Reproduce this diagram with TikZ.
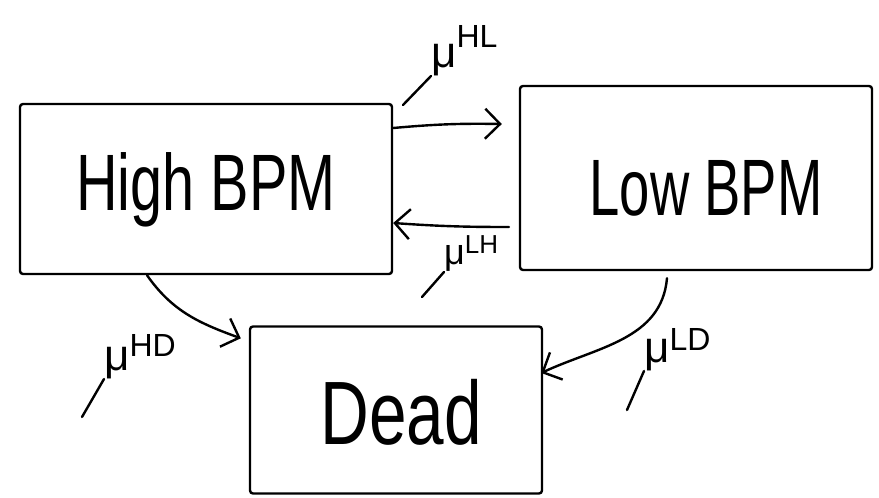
\documentclass[tikz,border=0pt]{standalone}
\usepackage{graphicx}
\usepackage{fontspec}
\setmainfont{Liberation Sans}
\usetikzlibrary{arrows.meta,calc}
% rate label: a mu with its raised superscript
\newcommand\ratelabel[3]{μ\raisebox{#2}{\fontsize{#3}{#3}\selectfont #1}}
\tikzset{
  ink/.style={line width=2.4pt, line cap=round, line join=round, black},
  statebox/.style={ink, draw, rectangle, rounded corners=3pt, inner sep=0pt},
  statetext/.style={font=\fontsize{80}{90}\selectfont},
  trans/.style={ink, -{Straight Barb[length=15pt,width=30pt,line width=2.4pt]}},
  rate/.style={anchor=south west, inner sep=0pt, font=\fontsize{44}{50}\selectfont},
}
\begin{document}
\begin{tikzpicture}[x=1pt,y=-1pt]
  \useasboundingbox (0,0) rectangle (879,498);

  % the three states
  \node[statebox, minimum width=372pt, minimum height=170pt] (hi) at (206,189) {};
  \node[statebox, minimum width=352pt, minimum height=184pt] (lo) at (696,178) {};
  \node[statebox, minimum width=292pt, minimum height=167pt] (de) at (396,410) {};

  \node[statetext] (hiT) at (206,190) {\scalebox{0.72}[1]{High BPM}};
  \node[statetext] (loT) at (706,188) {\scalebox{0.68}[1]{Low BPM}};
  \node[statetext, font=\fontsize{90}{100}\selectfont] (deT) at (401,412) {\scalebox{0.75}[1]{Dead}};

  % transitions between states
  \draw[trans] ([yshift=61pt]hi.east) to[bend left=3] ([xshift=-17pt,yshift=54pt]lo.west);
  \draw[trans] ([xshift=-10pt,yshift=-49pt]lo.west) to[bend left=2] ([yshift=-34pt]hi.east);
  \draw[trans] ([xshift=-59pt]hi.south) to[out=-55,in=160] ([xshift=-8pt,yshift=-13pt]de.north west);
  \draw[trans] ([xshift=-29pt,yshift=-7pt]lo.south) to[out=-95,in=25] ([xshift=-2pt,yshift=37pt]de.east);

  % transition rates, each with its tail stroke
  \node[rate] (rHL) at (431,76) {\ratelabel{HL}{20pt}{32}};
  \node[rate, font=\fontsize{36}{40}\selectfont] (rLH) at (444,272) {\ratelabel{LH}{11pt}{26}};
  \node[rate] (rHD) at (104,379) {\ratelabel{HD}{14pt}{32}};
  \node[rate] (rLD) at (644,371) {\ratelabel{LD}{12pt}{32}};

  \coordinate (tHL) at (403,105);
  \coordinate (tLH) at (422,297);
  \coordinate (tHD) at (82,417);
  \coordinate (tLD) at (627,410);
  \draw[ink] (tHL) -- (rHL.south west);
  \draw[ink] (tLH) -- (rLH.south west);
  \draw[ink] (tHD) -- (rHD.south west);
  \draw[ink] (tLD) -- (rLD.south west);
\end{tikzpicture}
\end{document}
